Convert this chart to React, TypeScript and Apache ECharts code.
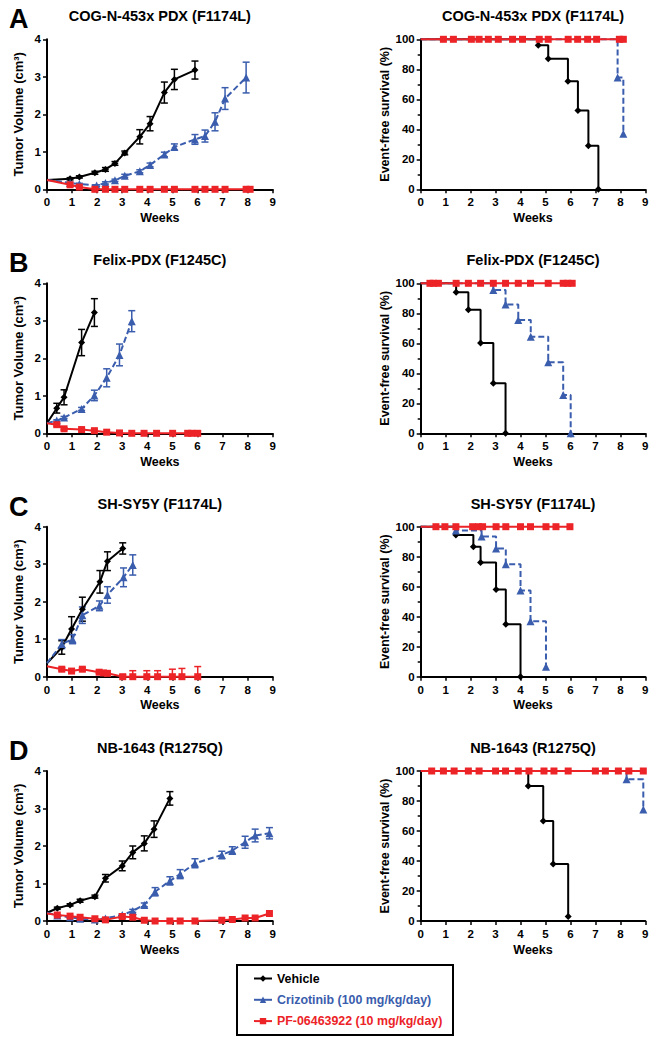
import React, { useEffect, useRef } from "react";
import * as echarts from "echarts";

// ---- Data: [week, value, error] ----
const WEEK_TICKS = [0, 1, 2, 3, 4, 5, 6, 7, 8, 9];
const PANEL_LETTERS = ["A", "B", "C", "D"];
const PANEL_TITLES = ["COG-N-453x PDX (F1174L)", "Felix-PDX (F1245C)", "SH-SY5Y (F1174L)", "NB-1643 (R1275Q)"];
const SERIES_NAMES = ["Vehicle", "Crizotinib (100 mg/kg/day)", "PF-06463922 (10 mg/kg/day)"];

const A_VEH = [[0,0.25,0],[0.92,0.28,0.03],[1.29,0.33,0.03],[1.91,0.44,0.04],[2.33,0.53,0.05],[2.71,0.69,0.05],[3.1,0.97,0.05],[3.7,1.4,0.19],[4.11,1.75,0.19],[4.68,2.58,0.28],[5.08,2.93,0.27],[5.9,3.18,0.24]];
const A_CRI = [[0,0.25,0],[0.92,0.17,0.02],[1.29,0.14,0.02],[1.98,0.1,0.02],[2.33,0.17,0.03],[2.71,0.24,0.03],[3.1,0.36,0.04],[3.7,0.48,0.04],[4.11,0.65,0.05],[4.68,0.93,0.06],[5.08,1.13,0.08],[5.9,1.33,0.13],[6.3,1.42,0.16],[6.7,1.8,0.24],[7.1,2.42,0.29],[7.94,2.98,0.41]];
const A_PF = [[0,0.25,0],[0.92,0.12,0],[1.29,0.06,0],[1.91,0,0],[2.33,0,0],[2.71,0,0],[3.1,0,0],[3.7,0,0],[4.11,0,0],[4.68,0,0],[5.08,0,0],[5.9,0,0],[6.3,0,0],[6.7,0,0],[7.1,0,0],[7.94,0,0],[8.1,0,0]];

const B_VEH = [[0,0.27,0],[0.39,0.67,0.13],[0.68,0.96,0.2],[1.38,2.42,0.35],[1.89,3.22,0.37]];
const B_CRI = [[0,0.27,0],[0.39,0.34,0.02],[0.68,0.42,0.03],[1.38,0.65,0.04],[1.89,1.01,0.14],[2.38,1.48,0.24],[2.89,2.09,0.29],[3.38,2.99,0.28]];
const B_PF = [[0,0.27,0],[0.39,0.23,0.04],[0.68,0.12,0.03],[1.38,0.1,0.02],[1.89,0.07,0.02],[2.38,0.03,0],[2.89,0.01,0],[3.38,0,0],[3.87,0,0],[4.37,0,0],[5.01,0,0],[5.61,0,0],[5.77,0,0],[6.01,0,0]];

const C_VEH = [[0,0.36,0],[0.59,0.78,0.18],[0.98,1.27,0.33],[1.41,1.8,0.32],[2.11,2.53,0.3],[2.41,3.08,0.25],[3.02,3.42,0.15]];
const C_CRI = [[0,0.36,0],[0.59,0.87,0.12],[1.02,1.0,0.12],[1.41,1.64,0.22],[2.09,1.89,0.13],[2.41,2.18,0.22],[3.05,2.65,0.25],[3.42,2.98,0.27]];
const C_PF = [[0,0.28,0],[0.59,0.2,0.04],[0.98,0.15,0.04],[1.41,0.2,0.04],[2.08,0.12,0.03],[2.25,0.1,0.03],[2.41,0.09,0.03],[3.02,0,0.05],[3.42,0,0.16],[3.98,0,0.16],[4.41,0,0.16],[5.0,0,0.2],[5.38,0,0.22],[6.01,0,0.27]];

const D_VEH = [[0,0.22,0],[0.41,0.34,0.03],[0.92,0.43,0.03],[1.32,0.54,0.04],[1.91,0.65,0.04],[2.33,1.14,0.1],[3.0,1.47,0.13],[3.42,1.83,0.17],[3.88,2.07,0.2],[4.27,2.45,0.22],[4.9,3.27,0.18]];
const D_CRI = [[0,0.22,0],[0.41,0.15,0.02],[0.92,0.1,0.02],[1.32,0.06,0.02],[1.91,0.04,0.02],[2.33,0.07,0.02],[3.0,0.16,0.03],[3.42,0.27,0.04],[3.88,0.43,0.05],[4.31,0.78,0.11],[4.9,1.07,0.11],[5.31,1.25,0.12],[5.9,1.54,0.12],[6.97,1.76,0.1],[7.39,1.88,0.1],[7.9,2.1,0.16],[8.3,2.28,0.17],[8.87,2.34,0.15]];
const D_PF = [[0,0.2,0],[0.41,0.16,0],[0.92,0.13,0],[1.32,0.1,0],[1.91,0.06,0],[2.33,0.03,0],[3.0,0.12,0],[3.42,0.1,0],[3.88,0.02,0],[4.31,0,0],[4.9,0,0],[5.31,0,0],[5.9,0,0],[6.97,0.02,0],[7.39,0.04,0],[7.9,0.08,0],[8.3,0.08,0],[8.87,0.2,0]];

// Survival: [week, percent]
const A_S_VEH = [[0,100],[4.71,96],[5.11,87],[5.9,72],[6.3,52.5],[6.72,29],[7.12,0]];
const A_S_CRI = [[0,100],[7.89,74.5],[8.12,37]];
const A_S_PF_CENSOR = [0.91,1.31,2.03,2.34,2.71,3.11,3.68,4.08,4.75,5.11,5.91,6.29,6.69,7.05,7.96,8.12];

const B_S_VEH = [[0,100],[1.42,94],[1.91,82.4],[2.4,60.2],[2.91,33.3],[3.4,0]];
const B_S_CRI = [[0,100],[2.91,95.6],[3.4,85.8],[3.91,75.6],[4.41,64.4],[5.11,47.3],[5.71,25.5],[6.01,0]];
const B_S_PF_CENSOR = [0.37,0.51,0.71,1.42,1.91,2.4,2.91,3.4,3.91,4.4,5.11,5.71,5.89,6.07];

const C_S_VEH = [[0,100],[1.41,94.4],[2.11,86.7],[2.4,76.2],[3.02,58.2],[3.41,34.9],[4.0,0]];
const C_S_CRI = [[0,100],[1.41,97.5],[2.44,93.5],[3.02,85.5],[3.41,75],[4.0,57.5],[4.4,37],[5.02,6.7]];
const C_S_PF_CENSOR = [0.61,0.97,1.41,2.08,2.31,2.48,3.02,3.41,4.0,4.4,5.02,5.42,5.98];

const D_S_VEH = [[0,100],[4.31,90],[4.91,66.7],[5.31,38],[5.91,3]];
const D_S_CRI = [[0,100],[8.25,94.5],[8.92,74.4]];
const D_S_PF_CENSOR = [0.44,0.91,1.34,1.91,2.34,3.0,3.4,3.91,4.34,4.94,5.34,5.91,7.0,7.4,7.92,8.34,8.92];

const TUMOR = [[A_VEH, A_CRI, A_PF], [B_VEH, B_CRI, B_PF], [C_VEH, C_CRI, C_PF], [D_VEH, D_CRI, D_PF]];
const SURV = [[A_S_VEH, A_S_CRI, A_S_PF_CENSOR], [B_S_VEH, B_S_CRI, B_S_PF_CENSOR], [C_S_VEH, C_S_CRI, C_S_PF_CENSOR], [D_S_VEH, D_S_CRI, D_S_PF_CENSOR]];

// ---- Styles / layout ----
const FONT = '"Liberation Sans", Arial, Helvetica, sans-serif';
const COLORS = ["#000000", "#3a5dad", "#ec2327"];
const SYMBOLS = ["diamond", "triangle", "rect"];
const SYM_SIZE = [7, 8, 7];
const GRID_TOPS = [39.3, 283.3, 526.7, 771];
const GRID_H = 150;
const LEFT_X = 47, LEFT_W = 225.7;
const RIGHT_X = 420.7, RIGHT_W = 224.6;

function lineStyleFor(k: number) {
  return { color: COLORS[k], width: 2, type: k === 1 ? [6, 3] : "solid" };
}

function errorSeries(data: number[][], k: number, axisIdx: number) {
  return {
    type: "custom",
    xAxisIndex: axisIdx,
    yAxisIndex: axisIdx,
    z: 3,
    silent: true,
    data: data.filter((d) => d[2] > 0).map((d) => [d[0], d[1], d[2]]),
    encode: { x: 0, y: 1 },
    renderItem: (params: any, api: any) => {
      const x = api.value(0), v = api.value(1), e = api.value(2);
      const hi = api.coord([x, v + e]);
      const lo = api.coord([x, Math.max(0, v - e)]);
      const w = 3.5;
      const st = { stroke: COLORS[k], lineWidth: 1.5 };
      return {
        type: "group",
        children: [
          { type: "line", shape: { x1: hi[0], y1: hi[1], x2: lo[0], y2: lo[1] }, style: st },
          { type: "line", shape: { x1: hi[0] - w, y1: hi[1], x2: hi[0] + w, y2: hi[1] }, style: st },
          { type: "line", shape: { x1: lo[0] - w, y1: lo[1], x2: lo[0] + w, y2: lo[1] }, style: st },
        ],
      };
    },
  };
}

function buildOption() {
  const grid: any[] = [];
  const xAxis: any[] = [];
  const yAxis: any[] = [];
  const series: any[] = [];
  const graphic: any[] = [];

  const axisCommon = {
    axisLine: { show: true, onZero: false, lineStyle: { color: "#000", width: 2 } },
    axisTick: { show: true, length: 4, lineStyle: { color: "#000", width: 1.5 } },
    splitLine: { show: false },
    nameLocation: "middle",
  };
  const labelStyle = { fontFamily: FONT, fontWeight: "bold", fontSize: 11.5, color: "#000" };

  for (let p = 0; p < 4; p++) {
    const top = GRID_TOPS[p];
    for (let side = 0; side < 2; side++) {
      const idx = p * 2 + side;
      const gx = side === 0 ? LEFT_X : RIGHT_X;
      const gw = side === 0 ? LEFT_W : RIGHT_W;
      grid.push({ left: gx, top, width: gw, height: GRID_H, containLabel: false });
      xAxis.push({
        ...axisCommon,
        gridIndex: idx,
        type: "value",
        min: WEEK_TICKS[0],
        max: WEEK_TICKS[WEEK_TICKS.length - 1],
        interval: 1,
        name: "Weeks",
        nameGap: 22,
        nameTextStyle: { fontFamily: FONT, fontWeight: "bold", fontSize: 12.5, color: "#000" },
        axisLabel: { ...labelStyle, margin: 7 },
      });
      if (side === 0) {
        yAxis.push({
          ...axisCommon,
          gridIndex: idx,
          type: "value",
          min: 0,
          max: 4,
          interval: 1,
          name: "Tumor Volume (cm³)",
          nameGap: 22,
          nameTextStyle: { fontFamily: FONT, fontWeight: "bold", fontSize: 13, color: "#000" },
          axisLabel: { ...labelStyle, margin: 6 },
        });
      } else {
        yAxis.push({
          ...axisCommon,
          gridIndex: idx,
          type: "value",
          min: 0,
          max: 100,
          interval: 20,
          name: "Event-free survival (%)",
          nameGap: 28,
          nameTextStyle: { fontFamily: FONT, fontWeight: "bold", fontSize: 12.5, color: "#000" },
          minorTick: { show: true, splitNumber: 2, length: 3, lineStyle: { color: "#000", width: 1.5 } },
          axisLabel: { ...labelStyle, margin: 6 },
        });
      }

      graphic.push({
        type: "text",
        x: gx + gw / 2,
        y: top - 23,
        style: {
          text: PANEL_TITLES[p],
          font: `bold 14.5px ${FONT}`,
          fill: "#000",
          align: "center",
          verticalAlign: "middle",
        },
      });

      if (side === 0) {
        for (let k = 0; k < 3; k++) {
          const data = TUMOR[p][k];
          series.push({
            type: "line",
            name: SERIES_NAMES[k],
            xAxisIndex: idx,
            yAxisIndex: idx,
            clip: false,
            z: 4 + k,
            symbol: SYMBOLS[k],
            symbolSize: SYM_SIZE[k],
            itemStyle: { color: COLORS[k] },
            lineStyle: lineStyleFor(k),
            data: data.map((d) => (d[0] === 0 ? { value: [d[0], d[1]], symbol: "none" } : { value: [d[0], d[1]] })),
          });
          series.push(errorSeries(data, k, idx));
        }
      } else {
        for (let k = 0; k < 3; k++) {
          let pts: number[][];
          if (k === 2) {
            const cens = SURV[p][2] as number[];
            pts = [[0, 100], ...cens.map((w) => [w, 100])];
          } else {
            pts = SURV[p][k] as number[][];
          }
          series.push({
            type: "line",
            name: SERIES_NAMES[k],
            xAxisIndex: idx,
            yAxisIndex: idx,
            clip: false,
            step: "end",
            z: 4 + k,
            symbol: SYMBOLS[k],
            symbolSize: SYM_SIZE[k],
            itemStyle: { color: COLORS[k] },
            lineStyle: lineStyleFor(k),
            data: pts.map((d) => (d[0] === 0 ? { value: [d[0], d[1]], symbol: "none" } : { value: [d[0], d[1]] })),
          });
        }
      }
    }
    graphic.push({
      type: "text",
      x: 9,
      y: top - 20,
      style: { text: PANEL_LETTERS[p], font: `bold 27px ${FONT}`, fill: "#000", align: "left", verticalAlign: "middle" },
    });
  }

  graphic.push({
    type: "rect",
    shape: { x: 237, y: 965, width: 216, height: 70 },
    style: { fill: "none", stroke: "#000", lineWidth: 2 },
    z: 0,
  });

  return {
    animation: false,
    backgroundColor: "#fff",
    grid,
    xAxis,
    yAxis,
    series,
    graphic,
    legend: {
      orient: "vertical",
      left: 253,
      top: 971,
      padding: 0,
      itemGap: 6.3,
      itemWidth: 18,
      itemHeight: 8,
      selectedMode: false,
      lineStyle: { type: "solid", width: 2 },
      textStyle: { fontFamily: FONT, fontWeight: "bold", fontSize: 12.4, lineHeight: 15 },
      data: SERIES_NAMES.map((n, k) => ({ name: n, textStyle: { color: COLORS[k] } })),
    },
  };
}

export default function App() {
  const ref = useRef<HTMLDivElement>(null);
  useEffect(() => {
    if (!ref.current) return;
    const chart = echarts.init(ref.current, undefined, { renderer: "svg" });
    chart.setOption(buildOption() as any);
    return () => chart.dispose();
  }, []);
  return <div ref={ref} style={{ position: "absolute", left: 0, top: 0, width: 658, height: 1047, background: "#fff" }} />;
}
